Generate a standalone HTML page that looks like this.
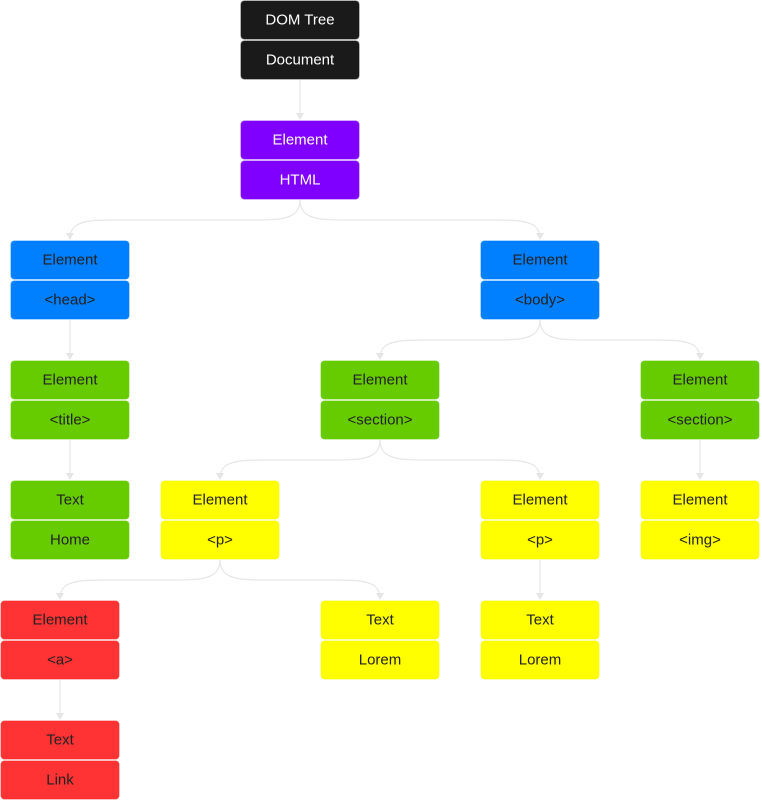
<!DOCTYPE html>
<html><head><meta charset="utf-8"><style>
html,body{margin:0;padding:0;background:#fff;}
svg{display:block;}
text{font-family:"Liberation Sans",Arial,sans-serif;font-size:15px;text-anchor:middle;dominant-baseline:central;}
</style></head><body>
<svg width="762" height="801" viewBox="0 0 762 801" xmlns="http://www.w3.org/2000/svg">
<defs><marker id="ar" markerWidth="8" markerHeight="8" refX="4" refY="6" orient="auto" markerUnits="userSpaceOnUse"><path d="M0,0 L4,6 L8,0 Z" fill="#e6e6e6" transform="rotate(-90 4 4)"/></marker></defs>
<g fill="none" stroke="#e6e6e6" stroke-width="1.2" id="edges"></g>
<g id="nodes"></g>
</svg>
<script>
const nodes=[
["DOM Tree","Document",240,0,"#1a1a1a","#fff"],
["Element","HTML",240,120,"#8000ff","#fff"],
["Element","<head>",10,240,"#007fff","#222"],
["Element","<body>",480,240,"#007fff","#222"],
["Element","<title>",10,360,"#66cc00","#222"],
["Element","<section>",320,360,"#66cc00","#222"],
["Element","<section>",640,360,"#66cc00","#222"],
["Text","Home",10,480,"#66cc00","#222"],
["Element","<p>",160,480,"#ffff00","#222"],
["Element","<p>",480,480,"#ffff00","#222"],
["Element","<img>",640,480,"#ffff00","#222"],
["Element","<a>",0,600,"#ff3333","#222"],
["Text","Lorem",320,600,"#ffff00","#222"],
["Text","Lorem",480,600,"#ffff00","#222"],
["Text","Link",0,720,"#ff3333","#222"]];
const edges=[[0,1],[1,2],[1,3],[2,4],[4,7],[3,5],[3,6],[5,8],[5,9],[6,10],[8,11],[8,12],[9,13],[11,14]];
const NS="http://www.w3.org/2000/svg";
const ng=document.getElementById("nodes"),eg=document.getElementById("edges");
function el(t,a,p){const e=document.createElementNS(NS,t);for(const k in a)e.setAttribute(k,a[k]);p.appendChild(e);return e;}
for(const [a,b] of edges){
 const p=nodes[a],c=nodes[b];
 const px=p[2]+60,py=p[3]+80,cx=c[2]+60,cy=c[3];
 let d;
 if(Math.abs(px-cx)<1){d=`M${px},${py} L${cx},${cy-2}`;}
 else{const s=cx>px?1:-1,m=py+20;
 d=`M${px},${py} C${px},${m} ${px+s*20},${m} ${px+s*50},${m} L${cx-s*50},${m} C${cx-s*20},${m} ${cx},${m} ${cx},${cy-2}`;}
 el("path",{d:d},eg);
 el("path",{d:`M${cx-4},${cy-7} L${cx+4},${cy-7} L${cx},${cy} Z`,fill:"#e6e6e6",stroke:"none"},eg);
}
for(const [t1,t2,x,y,bg,fg] of nodes){
 for(let i=0;i<2;i++){
  el("rect",{x:x+0.5,y:y+i*40+0.5,width:119,height:39,rx:4,fill:bg,stroke:"rgba(255,255,255,0.35)"},ng);
  const t=el("text",{x:x+60,y:y+i*40+20,fill:fg},ng);t.textContent=i?t2:t1;
 }
}
</script>
</body></html>
